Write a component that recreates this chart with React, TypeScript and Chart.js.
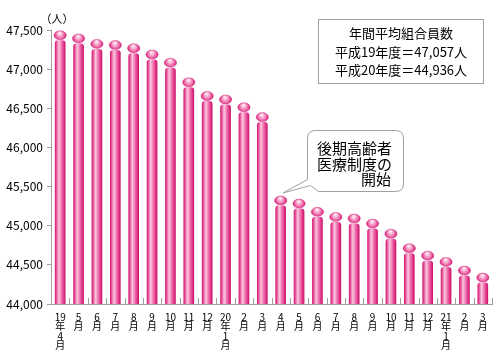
import { useEffect, useRef } from "react";
import { Chart, registerables } from "chart.js";

Chart.register(...registerables);

const xLabels: string[][] = [
  ["19", "年", "4", "月"], ["5", "月"], ["6", "月"], ["7", "月"], ["8", "月"], ["9", "月"],
  ["10", "月"], ["11", "月"], ["12", "月"], ["20", "年", "1", "月"], ["2", "月"], ["3", "月"],
  ["4", "月"], ["5", "月"], ["6", "月"], ["7", "月"], ["8", "月"], ["9", "月"],
  ["10", "月"], ["11", "月"], ["12", "月"], ["21", "年", "1", "月"], ["2", "月"], ["3", "月"],
];

const fy19Members = [47490, 47450, 47380, 47365, 47325, 47245, 47140, 46890, 46715, 46670, 46570, 46445];
const fy20Members = [45380, 45340, 45235, 45170, 45150, 45085, 44955, 44770, 44675, 44595, 44485, 44395];
const members = [...fy19Members, ...fy20Members];

const yTicks = [44000, 44500, 45000, 45500, 46000, 46500, 47000, 47500];
const yUnit = "（人）";
const summaryTitle = "年間平均組合員数";
const summaryLines = ["平成19年度＝47,057人", "平成20年度＝44,936人"];
const calloutLines = ["後期高齢者", "医療制度の", "開始"];

const FONT = '"Noto Sans CJK JP", "Noto Sans", sans-serif';

const pillPlugin = {
  id: "pills",
  afterDatasetsDraw(chart: any) {
    const ctx = chart.ctx as CanvasRenderingContext2D;
    const area = chart.chartArea;
    const meta = chart.getDatasetMeta(0);
    ctx.save();
    meta.data.forEach((el: any) => {
      const { x, y, width } = el.getProps(["x", "y", "width"], true);
      const base = area.bottom;
      const bw = width;
      const left = x - bw / 2;
      const ballH = 9;
      const bodyTop = y + ballH + 0.5;
      // body
      const g = ctx.createLinearGradient(left, 0, left + bw, 0);
      g.addColorStop(0, "#cf0f6a");
      g.addColorStop(0.15, "#e6519a");
      g.addColorStop(0.38, "#fac8df");
      g.addColorStop(0.6, "#f07ab3");
      g.addColorStop(0.82, "#e2388b");
      g.addColorStop(1, "#c80d65");
      ctx.fillStyle = g;
      const r = 3;
      ctx.beginPath();
      ctx.moveTo(left, base);
      ctx.lineTo(left, bodyTop + r);
      ctx.quadraticCurveTo(left, bodyTop, left + r, bodyTop);
      ctx.lineTo(left + bw - r, bodyTop);
      ctx.quadraticCurveTo(left + bw, bodyTop, left + bw, bodyTop + r);
      ctx.lineTo(left + bw, base);
      ctx.closePath();
      ctx.fill();
      // ball
      const rx = bw / 2 + 0.8;
      const ry = ballH / 2;
      const cy = y + ry;
      const rg = ctx.createRadialGradient(x - 0.5, y + 2.2, 0.3, x, cy, rx);
      rg.addColorStop(0, "#fff2f8");
      rg.addColorStop(0.3, "#f8b6d5");
      rg.addColorStop(0.7, "#eb5da2");
      rg.addColorStop(1, "#d31674");
      ctx.fillStyle = rg;
      ctx.beginPath();
      ctx.ellipse(x, cy, rx, ry, 0, 0, Math.PI * 2);
      ctx.fill();
      ctx.strokeStyle = "rgba(200,15,100,0.6)";
      ctx.lineWidth = 0.6;
      ctx.stroke();
    });
    ctx.restore();
  },
};

const decorPlugin = {
  id: "decor",
  afterDraw(chart: any) {
    const ctx = chart.ctx as CanvasRenderingContext2D;
    const area = chart.chartArea;
    const xs = chart.scales.x;
    ctx.save();
    // inner tick marks at category boundaries
    ctx.strokeStyle = "#a0a0a0";
    ctx.lineWidth = 1;
    for (let i = 1; i <= members.length; i++) {
      const bx = i < members.length
        ? (xs.getPixelForValue(i - 1) + xs.getPixelForValue(i)) / 2
        : area.right;
      const px = Math.round(bx) + 0.5;
      ctx.beginPath();
      ctx.moveTo(px, area.bottom);
      ctx.lineTo(px, area.bottom - 6);
      ctx.stroke();
    }
    // unit label
    ctx.fillStyle = "#000";
    ctx.font = `11px ${FONT}`;
    ctx.textAlign = "center";
    ctx.textBaseline = "middle";
    ctx.fillText(yUnit, 57, 19);

    // summary box
    ctx.fillStyle = "#fff";
    ctx.fillRect(318.5, 19.5, 165, 64);
    ctx.strokeStyle = "#a0a0a0";
    ctx.strokeRect(318.5, 19.5, 165, 64);
    ctx.fillStyle = "#000";
    ctx.font = `13px ${FONT}`;
    ctx.fillText(summaryTitle, 401, 33);
    ctx.fillText(summaryLines[0], 401, 52);
    ctx.fillText(summaryLines[1], 401, 70);

    // callout
    const L = 307.5, T = 130.5, R = 403.5, B = 191.5, rr = 8;
    ctx.beginPath();
    ctx.moveTo(L + rr, T);
    ctx.lineTo(R - rr, T);
    ctx.quadraticCurveTo(R, T, R, T + rr);
    ctx.lineTo(R, B - rr);
    ctx.quadraticCurveTo(R, B, R - rr, B);
    ctx.lineTo(L + 11, B);
    ctx.lineTo(L + 3, B - 6);
    ctx.lineTo(283, 193);
    ctx.lineTo(L, B - 12);
    ctx.lineTo(L, T + rr);
    ctx.quadraticCurveTo(L, T, L + rr, T);
    ctx.closePath();
    ctx.fillStyle = "#fff";
    ctx.fill();
    ctx.strokeStyle = "#a0a0a0";
    ctx.lineWidth = 1;
    ctx.stroke();
    ctx.fillStyle = "#000";
    ctx.font = `15px ${FONT}`;
    ctx.textAlign = "left";
    ctx.fillText(calloutLines[0], 317, 148);
    ctx.fillText(calloutLines[1], 317, 164);
    ctx.textAlign = "right";
    ctx.fillText(calloutLines[2], 391, 179);
    ctx.restore();
  },
};

export default function App() {
  const ref = useRef<HTMLCanvasElement | null>(null);
  useEffect(() => {
    if (!ref.current) return;
    const chart = new Chart(ref.current, {
      type: "bar",
      data: {
        labels: xLabels,
        datasets: [
          {
            data: members,
            backgroundColor: "rgba(0,0,0,0)",
            borderWidth: 0,
            barPercentage: 0.58,
            categoryPercentage: 1,
          },
        ],
      },
      options: {
        animation: false,
        responsive: false,
        devicePixelRatio: 1,
        layout: { padding: { top: 30, right: 8, left: 0, bottom: 0 } },
        plugins: { legend: { display: false }, tooltip: { enabled: false } },
        scales: {
          x: {
            grid: { display: false },
            border: { display: true, color: "#a0a0a0" },
            ticks: {
              autoSkip: false,
              maxRotation: 0,
              minRotation: 0,
              padding: 0,
              color: "#000",
              font: { family: FONT, size: 10, lineHeight: 0.95 },
            },
            afterFit: (s: any) => { s.height = 56; },
          },
          y: {
            min: 44000,
            max: 47500,
            afterBuildTicks: (s: any) => { s.ticks = yTicks.map((v) => ({ value: v })); },
            grid: { drawOnChartArea: false, drawTicks: true, tickLength: 4, color: "#a0a0a0" },
            border: { display: true, color: "#a0a0a0" },
            ticks: {
              padding: 4,
              color: "#000",
              font: { family: FONT, size: 12 },
              callback: (v: any) => Number(v).toLocaleString("en-US"),
            },
            afterFit: (s: any) => { s.width = 51; },
          },
        },
      },
      plugins: [pillPlugin, decorPlugin],
    });
    return () => chart.destroy();
  }, []);
  return (
    <div style={{ position: "absolute", left: 0, top: 0, width: 500, height: 360 }}>
      <canvas ref={ref} width={500} height={360} />
    </div>
  );
}
